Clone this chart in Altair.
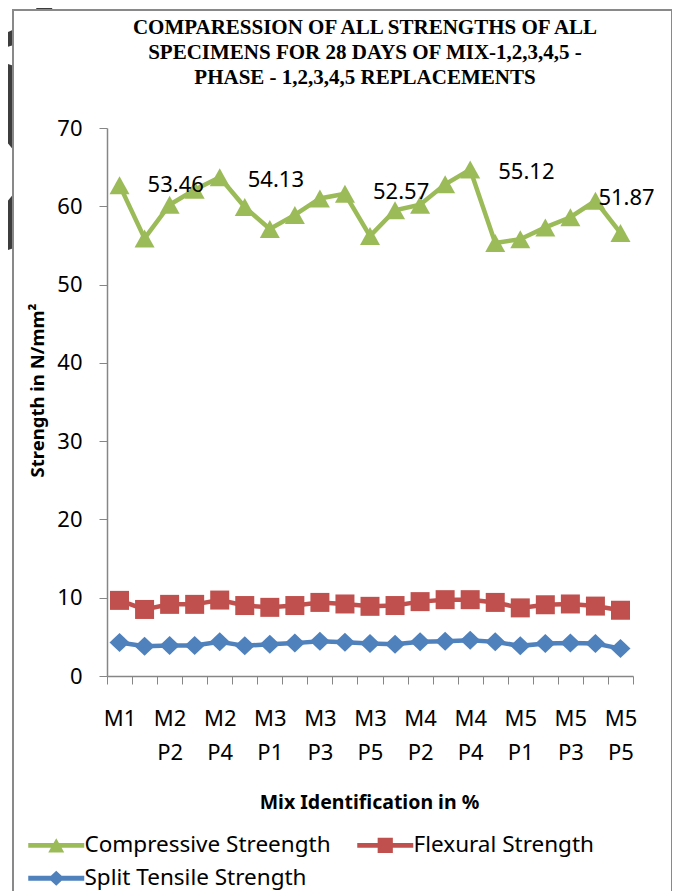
import altair as alt
import pandas as pd

# ---------------- data ----------------
categories = ["M1",
              "M2 P1", "M2 P2", "M2 P3", "M2 P4", "M2 P5",
              "M3 P1", "M3 P2", "M3 P3", "M3 P4", "M3 P5",
              "M4 P1", "M4 P2", "M4 P3", "M4 P4", "M4 P5",
              "M5 P1", "M5 P2", "M5 P3", "M5 P4", "M5 P5"]
shown_tick_labels = ["M1", "M2 P2", "M2 P4", "M3 P1", "M3 P3", "M3 P5",
                     "M4 P2", "M4 P4", "M5 P1", "M5 P3", "M5 P5"]

series_names = ["Compressive Streength", "Flexural Strength", "Split Tensile Strength"]
compressive = [62.7, 55.9, 60.2, 62.1, 63.7, 59.9, 57.1, 58.9, 61.0, 61.6, 56.2,
               59.5, 60.2, 62.8, 64.7, 55.3, 55.8, 57.3, 58.6, 60.7, 56.6]
flexural = [9.66, 8.5, 9.15, 9.15, 9.7, 9.0, 8.77, 9.0, 9.4, 9.2, 8.9,
            9.0, 9.5, 9.75, 9.75, 9.4, 8.7, 9.1, 9.2, 8.93, 8.4]
split_tensile = [4.28, 3.8, 3.9, 3.9, 4.36, 3.85, 4.07, 4.2, 4.45, 4.32, 4.15,
                 4.07, 4.36, 4.45, 4.57, 4.36, 3.85, 4.15, 4.2, 4.15, 3.5]

avg_categories = ["M2 P1", "M2 P5", "M3 P5", "M4 P5", "M5 P4"]
avg_values = [53.46, 54.13, 52.57, 55.12, 51.87]

title_lines = ["COMPARESSION OF ALL STRENGTHS OF ALL",
               "SPECIMENS FOR 28 DAYS OF MIX-1,2,3,4,5 -",
               "PHASE - 1,2,3,4,5 REPLACEMENTS"]

# ---------------- styles ----------------
colors = ["#9BBB59", "#C0504D", "#4F81BD"]
marker_paths = [
    "M0,-0.9L1,0.9L-1,0.9Z",
    "M-0.95,-0.95H0.95V0.95H-0.95Z",
    "M0,-0.95L1,0L0,0.95L-1,0Z",
]
legend_paths = [
    "M-3.5,-0.3H3.5V0.3H-3.5Z M0,-0.9L1,0.9L-1,0.9Z",
    "M-3.5,-0.3H3.5V0.3H-3.5Z M-0.95,-0.95H0.95V0.95H-0.95Z",
    "M-3.5,-0.3H3.5V0.3H-3.5Z M0,-0.95L1,0L0,0.95L-1,0Z",
]
FONT = "Noto Sans"
AXIS_COLOR = "#868686"
DARK = "#3d3d3d"

rows = []
for name, vals in zip(series_names, [compressive, flexural, split_tensile]):
    for c, v in zip(categories, vals):
        rows.append({"cat": c, "value": v, "series": name})
df = pd.DataFrame(rows)
avg_df = pd.DataFrame({"cat": avg_categories, "value": avg_values})
one_row = pd.DataFrame({"a": [0]})

shown_expr = "[" + ",".join("'" + s + "'" for s in shown_tick_labels) + "]"

x_enc = alt.X(
    "cat:N",
    sort=categories,
    scale=alt.Scale(domain=categories, paddingInner=0, paddingOuter=0),
    axis=alt.Axis(
        title="Mix Identification in %",
        labelExpr=f"indexof({shown_expr}, datum.value) >= 0 ? split(datum.value, ' ') : ''",
        labelAngle=0,
        labelOverlap=False,
        labelFont=FONT,
        labelFontSize=22,
        labelColor="black",
        labelLineHeight=34,
        labelPadding=24,
        labelBaseline="top",
        tickBand="extent",
        tickSize=8,
        tickColor=AXIS_COLOR,
        domainColor=AXIS_COLOR,
        domainWidth=1.5,
        titleFont=FONT,
        titleFontSize=19.5,
        titleFontWeight="bold",
        titleColor="black",
        titleX=262,
        titleY=126,
        titleBaseline="middle",
        grid=False,
        zindex=1,
    ),
)
y_enc = alt.Y(
    "value:Q",
    scale=alt.Scale(domain=[0, 70], nice=False),
    axis=alt.Axis(
        title="Strength in N/mm²",
        values=[0, 10, 20, 30, 40, 50, 60, 70],
        labelFont=FONT,
        labelFontSize=22,
        labelColor="black",
        labelPadding=17,
        tickSize=8,
        tickColor=AXIS_COLOR,
        domainColor=AXIS_COLOR,
        domainWidth=1.5,
        titleFont=FONT,
        titleFontSize=18.5,
        titleFontWeight="bold",
        titleColor="black",
        titleX=-70,
        titleY=262,
        titleAngle=-90,
        titleAlign="center",
        titleBaseline="middle",
        grid=False,
        zindex=1,
    ),
)

# legend layer: carries the only colour/shape scales (invisible marks)
leg = alt.Legend(
    title=None,
    orient="none",
    direction="horizontal",
    legendX=-62,
    legendY=706,
    columns=2,
    symbolSize=256,
    symbolStrokeWidth=0,
    symbolOpacity=1,
    labelFont=FONT,
    labelFontSize=22.5,
    labelColor="black",
    labelOffset=17,
    labelLimit=0,
    columnPadding=26,
    rowPadding=10,
    padding=0,
    zindex=2,
)
legend_layer = (
    alt.Chart(df)
    .mark_point(filled=True, size=256)
    .encode(
        x=x_enc, y=y_enc,
        color=alt.Color("series:N", scale=alt.Scale(domain=series_names, range=colors), legend=leg),
        shape=alt.Shape("series:N", scale=alt.Scale(domain=series_names, range=legend_paths), legend=leg),
        opacity=alt.value(0),
    )
)

series_layers = []
for name, col, path in zip(series_names, colors, marker_paths):
    base = alt.Chart(df).transform_filter(alt.datum.series == name)
    series_layers.append(
        base.mark_line(strokeWidth=4.5, color=col).encode(x=x_enc, y=y_enc)
    )
    series_layers.append(
        base.mark_point(shape=path, filled=True, size=400, opacity=1, color=col)
        .encode(x=x_enc, y=y_enc)
    )

avg_text = alt.Chart(avg_df).mark_text(
    align="left", baseline="middle", dx=3, dy=-72, font=FONT, fontSize=22, color="black"
).encode(
    x=alt.X("cat:N", sort=categories),
    y=alt.Y("value:Q"),
    text=alt.Text("value:Q", format=".2f"),
)

title_text = alt.Chart(pd.DataFrame({"t": ["\n".join(title_lines)]})).mark_text(
    font="Liberation Serif", fontSize=21, fontWeight="bold", color="black",
    align="center", baseline="middle", lineBreak="\n", lineHeight=24.75,
).encode(x=alt.value(258), y=alt.value(-100), text="t:N")

# page decoration (binder rings peeking out at the top-left, behind the chart box)
ring_outer = alt.Chart(one_row).mark_arc(theta=0, theta2=6.2832, color=DARK).encode(
    x=alt.value(-127), y=alt.value(29), radius=alt.value(97)
)
ring_hole = alt.Chart(one_row).mark_arc(theta=0, theta2=6.2832, color="white").encode(
    x=alt.value(-127), y=alt.value(44), radius=alt.value(40)
)
ring_top = alt.Chart(one_row).mark_arc(theta=0, theta2=6.2832, color=DARK).encode(
    x=alt.value(-120), y=alt.value(-150), radius=alt.value(72), radius2=alt.value(58)
)

box = alt.Chart(one_row).mark_rect(
    fill="white", stroke="#898989", strokeWidth=2
).encode(
    x=alt.value(-94), x2=alt.value(565), y=alt.value(-118), y2=alt.value(800)
)

chart = alt.layer(
    legend_layer, ring_outer, ring_hole, ring_top, box, title_text, *series_layers, avg_text
).properties(
    width=526,
    height=548,
    autosize=alt.AutoSizeParams(type="none"),
    padding={"left": 99, "top": 120, "right": 39, "bottom": 223},
).configure_view(stroke=None).configure(background="white")

chart.save("out.html", embed_options={"renderer": "svg", "actions": False})
